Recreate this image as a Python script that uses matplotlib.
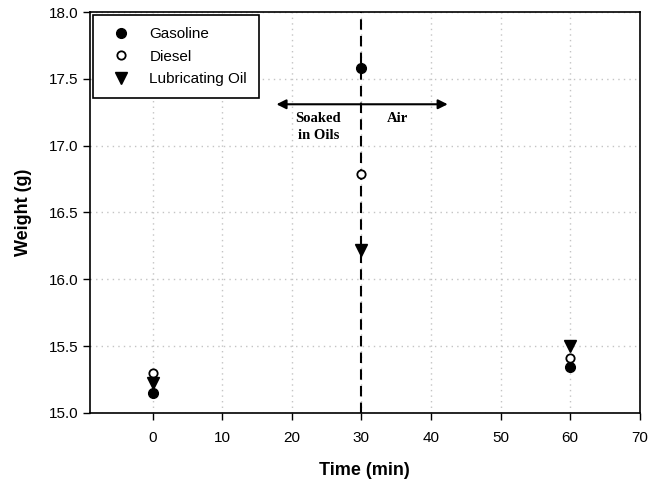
import numpy as np
import matplotlib.pyplot as plt

# Data
times = [0, 30, 60]
gasoline = [15.15, 17.58, 15.34]
diesel = [15.30, 16.79, 15.41]
lub_oil = [15.22, 16.22, 15.50]

plt.rcParams['font.family'] = ['Liberation Sans', 'DejaVu Sans']

fig = plt.figure(figsize=(6.61, 4.84), dpi=100)
ax = fig.add_axes([0.136, 0.147, 0.832, 0.828])

ax.plot(times, gasoline, 'o', color='black', markersize=7, label='Gasoline', zorder=5)
ax.plot(times, diesel, 'o', markerfacecolor='white', markeredgecolor='black',
        markeredgewidth=1.3, markersize=6, label='Diesel', zorder=5)
ax.plot(times, lub_oil, 'v', color='black', markersize=8, label='Lubricating Oil', zorder=5)

# vertical dashed divider
ax.axvline(30, color='black', linestyle=(0, (5, 3)), linewidth=1.5, zorder=3)

# double arrow
ax.annotate('', xy=(17.8, 17.31), xytext=(42.4, 17.31),
            arrowprops=dict(arrowstyle='<|-|>', color='black', lw=1.5,
                            mutation_scale=14, shrinkA=0, shrinkB=0))
ax.text(23.8, 17.14, 'Soaked\nin Oils', ha='center', va='center', fontsize=10.5,
        fontweight='bold', family='Liberation Serif', linespacing=1.4)
ax.text(35.2, 17.2, 'Air', ha='center', va='center', fontsize=10.5,
        fontweight='bold', family='Liberation Serif')

ax.set_xlim(-9, 70)
ax.set_ylim(15.0, 18.0)
ax.set_xticks(np.arange(0, 71, 10))
ax.set_yticks(np.arange(15.0, 18.01, 0.5))
ax.set_yticklabels([f'{v:.1f}' for v in np.arange(15.0, 18.01, 0.5)])
ax.tick_params(direction='out', labelsize=11, length=5, width=1)
ax.tick_params(axis='x', pad=8)

ax.grid(True, color='#c4c4c4', linestyle=(0, (1, 3)), linewidth=1)
ax.set_axisbelow(True)
for s in ax.spines.values():
    s.set_linewidth(1.2)

ax.set_xlabel('Time (min)', fontsize=13, fontweight='bold', labelpad=12)
ax.set_ylabel('Weight (g)', fontsize=13, fontweight='bold', labelpad=12)

leg = ax.legend(loc='upper left', fontsize=11, fancybox=False, framealpha=1,
                edgecolor='black', borderaxespad=0.2, handletextpad=0.8,
                borderpad=0.8, labelspacing=0.55, handlelength=2.1)
leg.get_frame().set_linewidth(1.2)

fig.savefig('out.png', dpi=100)
